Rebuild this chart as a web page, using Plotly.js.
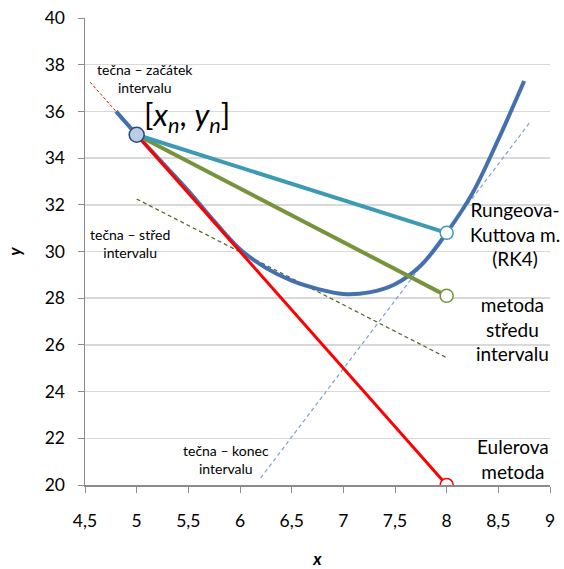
<!DOCTYPE html>
<html>
<head>
<meta charset="utf-8">
<script src="https://cdn.plot.ly/plotly-3.0.1.min.js"></script>
<style>html,body{margin:0;padding:0;background:#fff;}#chart{width:564px;height:569px;}</style>
</head>
<body>
<div id="chart"></div>
<script>
// exact solution curve
const curveX = [4.8, 5, 5.25, 5.5, 5.75, 6, 6.25, 6.5, 6.75, 7, 7.25, 7.5, 7.75, 8, 8.25, 8.5, 8.75];
const curveY = [36.0, 35.0, 33.8, 32.6, 31.3, 30.1, 29.3, 28.75, 28.4, 28.18, 28.25, 28.6, 29.4, 30.8, 32.5, 34.8, 37.3];
// methods
const eulerX = [5, 8];
const eulerY = [35, 20];
const midpointX = [5, 8];
const midpointY = [35, 28.1];
const rk4X = [5, 8];
const rk4Y = [35, 30.8];
// tangents
const tanStartX = [4.55, 5];
const tanStartY = [37.25, 35];
const tanMidX = [5, 8];
const tanMidY = [32.25, 25.45];
const tanEndX = [6.2, 8.8];
const tanEndY = [20.3, 35.5];
// start point
const startX = [5];
const startY = [35];

const FONT = 'Lato, "Open Sans", sans-serif';

const traces = [
  {x: tanStartX, y: tanStartY, mode: 'lines', line: {color: '#ff0000', width: 1, dash: '3px,2px'}},
  {x: tanMidX, y: tanMidY, mode: 'lines', line: {color: '#4f6228', width: 1.2, dash: '4px,3px'}},
  {x: tanEndX, y: tanEndY, mode: 'lines', line: {color: '#7f9fd5', width: 1.2, dash: '4px,3px'}},
  {x: curveX, y: curveY, mode: 'lines', line: {color: '#4470ad', width: 4, shape: 'spline', smoothing: 1}},
  {x: eulerX, y: eulerY, mode: 'lines', line: {color: '#ff0000', width: 3}},
  {x: midpointX, y: midpointY, mode: 'lines', line: {color: '#77933c', width: 4}},
  {x: rk4X, y: rk4Y, mode: 'lines', line: {color: '#3d9ab5', width: 4}},
  {x: [rk4X[1]], y: [rk4Y[1]], mode: 'markers', marker: {size: 13, color: '#ffffff', line: {color: '#3d9ab5', width: 1.5}}},
  {x: [midpointX[1]], y: [midpointY[1]], mode: 'markers', marker: {size: 13, color: '#ffffff', line: {color: '#77933c', width: 1.5}}},
  {x: [eulerX[1]], y: [eulerY[1]], mode: 'markers', marker: {size: 13, color: '#ffffff', line: {color: '#ff0000', width: 1.5}}},
  {x: startX, y: startY, mode: 'markers', marker: {size: 15, color: '#b9cde5', line: {color: '#2c4a78', width: 1.5}}}
];

const small = {family: FONT, size: 14, color: '#000'};
const big = {family: FONT, size: 19, color: '#000'};

const layout = {
  width: 564, height: 569,
  margin: {l: 85, r: 14, t: 18, b: 84},
  showlegend: false,
  hovermode: false,
  separators: ', ',
  paper_bgcolor: '#fff', plot_bgcolor: '#fff',
  font: {family: FONT, size: 17, color: '#000'},
  xaxis: {
    range: [4.5, 9], dtick: 0.5, tick0: 4.5,
    showgrid: false, zeroline: false,
    showline: true, linecolor: '#8c8c8c', linewidth: 1.5,
    ticks: 'outside', ticklen: 6, tickcolor: '#8c8c8c', tickwidth: 1,
    ticklabelstandoff: 13,
    tickfont: {family: FONT, size: 17.5, color: '#000'},
    title: {text: '<b><i>x</i></b>', font: {family: FONT, size: 17, color: '#000'}, standoff: 26}
  },
  yaxis: {
    range: [20, 40], dtick: 2,
    showgrid: true, gridcolor: '#d9d9d9', gridwidth: 1.5, zeroline: false,
    showline: true, linecolor: '#8c8c8c', linewidth: 1.5,
    ticks: 'outside', ticklen: 6, tickcolor: '#8c8c8c', tickwidth: 1,
    ticklabelstandoff: 9,
    tickfont: {family: FONT, size: 17.5, color: '#000'},
    title: {text: '<b><i>y</i></b>', font: {family: FONT, size: 17, color: '#000'}, standoff: 18}
  },
  annotations: [
    {x: 5.08, y: 37.39, xref: 'x', yref: 'y', text: 'tečna – začátek<br>intervalu', showarrow: false, font: small},
    {x: 5.49, y: 35.8, xref: 'x', yref: 'y', text: '[<i>x</i><sub><i>n</i></sub>, <i>y</i><sub><i>n</i></sub>]', showarrow: false, font: {family: FONT, size: 31, color: '#000'}},
    {x: 4.94, y: 30.36, xref: 'x', yref: 'y', text: 'tečna – střed<br>intervalu', showarrow: false, font: small},
    {x: 5.86, y: 21.11, xref: 'x', yref: 'y', text: 'tečna – konec<br>intervalu', showarrow: false, font: small},
    {x: 8.66, y: 30.75, xref: 'x', yref: 'y', text: 'Rungeova-<br>Kuttova m.<br>(RK4)', showarrow: false, font: big},
    {x: 8.64, y: 26.68, xref: 'x', yref: 'y', text: 'metoda<br>středu<br>intervalu', showarrow: false, font: big},
    {x: 8.64, y: 21.11, xref: 'x', yref: 'y', text: 'Eulerova<br>metoda', showarrow: false, font: big}
  ]
};

Plotly.newPlot('chart', traces, layout, {staticPlot: true, displayModeBar: false});
</script>
</body>
</html>
